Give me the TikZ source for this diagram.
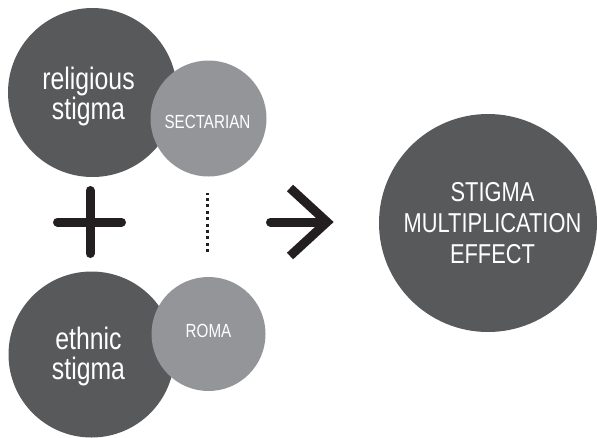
\documentclass[tikz,border=0pt]{standalone}
\usepackage{fontspec}
\setmainfont{Liberation Sans}[FakeStretch=0.8]
\usetikzlibrary{positioning}
\definecolor{darkdisc}{HTML}{58595B}
\definecolor{lightdisc}{HTML}{939598}
\definecolor{inkblack}{HTML}{231F20}

\begin{document}
\begin{tikzpicture}[x=1pt, y=-1pt,
	disc/.style={circle, inner sep=0pt, draw=none},
	bigdisc/.style={disc, fill=darkdisc},
	smalldisc/.style={disc, fill=lightdisc, minimum size=116pt},
	lowtext/.style={text=white, align=center, font=\fontsize{31}{30}\selectfont},
	captext/.style={text=white, align=center, font=\fontsize{27.3}{31}\selectfont},
	tagtext/.style={text=white, font=\fontsize{19}{20}\selectfont},
	symbol/.style={draw=inkblack, line width=9pt}]
	\useasboundingbox (0,0) rectangle (597,437);

	% circles
	\node[bigdisc, minimum size=169pt] (religious) at (92.5,92.5) {};
	\node[smalldisc] (sectarian) at (208.5,118.5) {};
	\node[bigdisc, minimum size=166pt] (ethnic) at (91.5,354.5) {};
	\node[smalldisc, minimum size=114pt] (roma) at (208.5,334) {};
	\node[bigdisc, minimum size=218pt] (effect) at (488,223) {};

	% labels
	\node[lowtext] (religious-label) at (88.5,96.2) {religious\\stigma};
	\node[tagtext, anchor=base] (sectarian-label) at (207.5,128) {SECTARIAN};
	\node[lowtext] (ethnic-label) at (88.5,356.2) {ethnic\\stigma};
	\node[tagtext, anchor=base] (roma-label) at (208.5,337) {ROMA};
	\node[captext] (effect-label) at (492.5,223.3) {STIGMA\\MULTIPLICATION\\EFFECT};

	% plus, dots, arrow
	\draw[symbol, line cap=round] (57.5,222) -- (121.5,222);
	\draw[symbol, line cap=round] (90,190.5) -- (90,253.5);
	\draw[inkblack, line width=3pt, dash pattern=on 3pt off 3.4pt, dash phase=1.5pt] (207.5,193) -- (207.5,252);
	\draw[symbol, line cap=round] (270.5,222) -- (326,222);
	\draw[symbol, miter limit=10] (290,188) -- (327,222) -- (290,256);
\end{tikzpicture}
\end{document}
